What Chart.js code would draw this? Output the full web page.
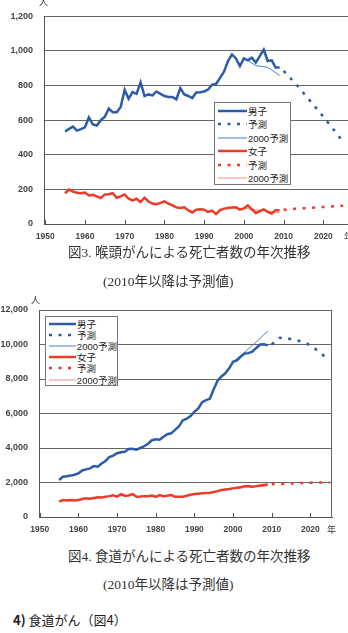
<!DOCTYPE html>
<html lang="ja">
<head>
<meta charset="utf-8">
<script src="https://cdn.jsdelivr.net/npm/chart.js@4.4.0/dist/chart.umd.min.js"></script>
<style>
  body { margin: 0; width: 348px; height: 633px; background: #fff; position: relative; overflow: hidden;
         font-family: "Liberation Sans", "Noto Sans CJK JP", sans-serif; }
  canvas { position: absolute; left: 0; }
  #chart3 { top: 0; }
  #chart4 { top: 290px; }
  .unit { position: absolute; font-size: 9px; color: #333; line-height: 10px; }
  .cap { position: absolute; font-family: "Liberation Serif", "Noto Sans CJK JP", serif; font-size: 13.5px;
         color: #333; white-space: nowrap; line-height: 16px; }
  .legend { position: absolute; background: #fff; border: 1px solid #777; font-size: 9.5px; color: #222; box-sizing: border-box; }
  .legend .row { display: flex; align-items: center; white-space: nowrap; }
  .legend svg { margin-left: 3px; margin-right: 1px; }
  #sec { position: absolute; left: 13px; top: 611px; font-size: 13px; color: #222; white-space: nowrap;
         font-family: "Noto Sans CJK JP", sans-serif; line-height: 18px; }
</style>
</head>
<body>
<canvas id="chart3" width="348" height="246"></canvas>
<canvas id="chart4" width="348" height="250"></canvas>

<div class="unit" style="left:39px; top:-3px;">人</div>
<div class="unit" style="left:344px; top:232px;">年</div>
<div class="unit" style="left:31px; top:295px;">人</div>
<div class="unit" style="left:327px; top:525px;">年</div>

<div class="cap" style="left:68px; top:245px;">図3. 喉頭がんによる死亡者数の年次推移</div>
<div class="cap" style="left:103px; top:274px;">(2010年以降は予測値)</div>
<div class="cap" style="left:68px; top:549px;">図4. 食道がんによる死亡者数の年次推移</div>
<div class="cap" style="left:103px; top:577px;">(2010年以降は予測値)</div>
<div id="sec"><b>4)</b> 食道がん（図4）</div>

<div class="legend" id="legend3" style="left:214px; top:102px; width:77px; height:83px; padding-top:1px;"></div>
<div class="legend" id="legend4" style="left:45px; top:316px; width:73px; height:70px; padding-top:1px;"></div>

<script>
// data (deaths per year)
const years = [1955,1956,1957,1958,1959,1960,1961,1962,1963,1964,1965,1966,1967,1968,1969,1970,1971,1972,1973,1974,1975,1976,1977,1978,1979,1980,1981,1982,1983,1984,1985,1986,1987,1988,1989,1990,1991,1992,1993,1994,1995,1996,1997,1998,1999,2000,2001,2002,2003,2004,2005,2006,2007,2008,2009];
const xTicks = [1950, 1960, 1970, 1980, 1990, 2000, 2010, 2020];

// Fig.3 larynx
const larynxMale = [535,550,563,540,548,559,616,575,569,600,620,667,646,646,677,775,724,762,752,819,739,749,743,766,752,740,734,734,720,785,749,740,728,760,762,766,777,805,809,845,880,942,980,957,913,957,946,961,933,970,1008,942,946,904,904];
const larynxFemale = [178,199,188,180,178,182,165,169,160,150,171,172,178,152,160,171,146,136,146,127,152,130,118,114,122,131,118,108,96,93,97,80,67,83,85,83,70,77,57,80,89,92,95,97,83,90,108,85,64,75,85,70,61,80,80];
const larynxPredYears = [2010, 2013, 2016, 2019, 2022, 2025];
const larynxMalePred = [885, 812, 730, 648, 562, 475];
const larynxFemalePred = [82, 88, 92, 97, 101, 106];
const larynx2000Years = [2001, 2003, 2006, 2009];
const larynxMale2000 = [946, 915, 906, 858];
const larynxFemale2000Years = [2000, 2003, 2006, 2009];
const larynxFemale2000 = [90, 83, 74, 64];
const larynxYTicks = [0, 200, 400, 600, 800, 1000, 1200];

// Fig.4 esophagus
const esoMale = [2150,2330,2360,2400,2450,2530,2700,2760,2820,2950,2920,3100,3250,3480,3560,3700,3750,3780,3940,3960,3900,4000,4100,4250,4450,4500,4480,4650,4800,4850,5050,5250,5600,5700,5850,6100,6300,6650,6780,6850,7400,7900,8150,8330,8620,9000,9080,9300,9480,9500,9580,9800,10000,10010,9950];
const esoFemale = [890,980,960,990,960,990,1040,1080,1060,1100,1140,1130,1180,1210,1260,1180,1320,1230,1250,1330,1180,1190,1210,1200,1240,1170,1270,1210,1230,1270,1180,1170,1180,1230,1290,1330,1350,1370,1390,1410,1450,1500,1560,1590,1620,1660,1700,1720,1790,1800,1760,1790,1820,1850,1880];
const esoMalePredYears = [2010, 2012, 2013, 2015, 2017, 2019, 2021, 2022, 2024];
const esoMalePred = [10000, 10380, 10400, 10310, 10220, 10070, 9800, 9620, 9250];
const esoFemalePredYears = [2010, 2013, 2016, 2019, 2022, 2025];
const esoFemalePred = [1900, 1930, 1960, 1980, 1995, 2000];
const eso2000Years = [2000, 2003, 2006, 2009];
const esoMale2000 = [9000, 9550, 10150, 10780];
const esoFemale2000 = [1660, 1700, 1750, 1800];
const esoYTicks = [0, 2000, 4000, 6000, 8000, 10000, 12000];

const labels = ['男子', '予測', '2000予測', '女子', '予測', '2000予測'];
const BLUE = '#2c5ca8', BLUE_THIN = '#4d7cc4', RED = '#ec3b27', RED_THIN = '#f39382';

function pts(xs, ys) {
  return xs.map((x, i) => ({ x: x, y: ys[i] }));
}

function makeSets(male, malePred, male2000, female, femalePred, female2000) {
  return [
    { label: labels[0], data: male, borderColor: BLUE, borderWidth: 2.5 },
    { label: labels[1], data: malePred, borderColor: BLUE, borderWidth: 2.5, borderDash: [3, 6.5] },
    { label: labels[2], data: male2000, borderColor: BLUE_THIN, borderWidth: 1 },
    { label: labels[3], data: female, borderColor: RED, borderWidth: 2.5 },
    { label: labels[4], data: femalePred, borderColor: RED, borderWidth: 2.5, borderDash: [3, 6.5] },
    { label: labels[5], data: female2000, borderColor: RED_THIN, borderWidth: 1 }
  ];
}

// little tick marks pointing into the plot + optional frame on the right
const innerTicks = {
  id: 'innerTicks',
  afterDraw(chart, args, opts) {
    const ctx = chart.ctx, x = chart.scales.x, a = chart.chartArea;
    ctx.save();
    ctx.strokeStyle = '#555';
    ctx.lineWidth = 1;
    x.ticks.forEach(t => {
      const px = Math.round(x.getPixelForValue(t.value)) + 0.5;
      ctx.beginPath();
      ctx.moveTo(px, a.bottom);
      ctx.lineTo(px, a.bottom - 4);
      ctx.stroke();
    });
    if (opts.frame) {
      ctx.strokeStyle = '#666';
      ctx.beginPath();
      ctx.moveTo(Math.round(a.right) - 0.5, a.top);
      ctx.lineTo(Math.round(a.right) - 0.5, a.bottom);
      ctx.stroke();
    }
    ctx.restore();
  }
};

function makeChart(id, datasets, yTicks, dims) {
  return new Chart(document.getElementById(id), {
    type: 'line',
    data: { datasets: datasets },
    plugins: [innerTicks],
    options: {
      responsive: false,
      animation: false,
      devicePixelRatio: 1,
      layout: { padding: { top: dims.top, right: dims.right, left: 0, bottom: 0 } },
      elements: { point: { radius: 0 }, line: { tension: 0, borderCapStyle: 'butt' } },
      plugins: { legend: { display: false }, tooltip: { enabled: false }, innerTicks: { frame: dims.frame } },
      scales: {
        x: {
          type: 'linear',
          min: dims.xMin,
          max: dims.xMax,
          afterBuildTicks: s => { s.ticks = xTicks.map(v => ({ value: v })); },
          afterFit: s => { s.height = dims.xHeight; },
          grid: { drawOnChartArea: false, drawTicks: false },
          border: { color: '#555', width: 1 },
          ticks: { padding: 8, color: '#444', font: { family: 'Liberation Sans', size: 8.5, weight: 'bold' },
                   callback: v => String(v) }
        },
        y: {
          min: yTicks[0],
          max: yTicks[yTicks.length - 1],
          afterBuildTicks: s => { s.ticks = yTicks.map(v => ({ value: v })); },
          afterFit: s => { s.width = dims.yWidth; },
          grid: { color: '#666', lineWidth: 1, drawTicks: false },
          border: { color: '#555', width: 1 },
          ticks: { padding: dims.yPad, color: '#444', font: { family: 'Liberation Sans', size: 9, weight: 'bold' },
                   callback: v => v.toLocaleString('en-US') }
        }
      }
    }
  });
}

const chart3 = makeChart('chart3', makeSets(
  pts(years, larynxMale), pts(larynxPredYears, larynxMalePred), pts(larynx2000Years, larynxMale2000),
  pts(years, larynxFemale), pts(larynxPredYears, larynxFemalePred), pts(larynxFemale2000Years, larynxFemale2000)
), larynxYTicks, { top: 13, right: 0, xMin: 1949.7, xMax: 2026.2, xHeight: 22, yWidth: 44, yPad: 11, frame: false });

const chart4 = makeChart('chart4', makeSets(
  pts(years, esoMale), pts(esoMalePredYears, esoMalePred), pts(eso2000Years, esoMale2000),
  pts(years, esoFemale), pts(esoFemalePredYears, esoFemalePred), pts(eso2000Years, esoFemale2000)
), esoYTicks, { top: 20, right: 16, xMin: 1949.8, xMax: 2025.6, xHeight: 23, yWidth: 39, yPad: 11, frame: true });

// legend boxes built from the datasets
function buildLegend(elId, chart, rowH, lineW) {
  const box = document.getElementById(elId);
  chart.data.datasets.forEach(ds => {
    const row = document.createElement('div');
    row.className = 'row';
    row.style.height = rowH + 'px';
    const dash = ds.borderDash ? ds.borderDash.join(' ') : 'none';
    row.innerHTML = '<svg width="' + lineW + '" height="6"><line x1="0" y1="3" x2="' + lineW + '" y2="3" stroke="' +
      ds.borderColor + '" stroke-width="' + ds.borderWidth + '" stroke-dasharray="' + dash + '"/></svg><span>' + ds.label + '</span>';
    box.appendChild(row);
  });
}
buildLegend('legend3', chart3, 13.5, 29);
buildLegend('legend4', chart4, 11.2, 27);
</script>
</body>
</html>
